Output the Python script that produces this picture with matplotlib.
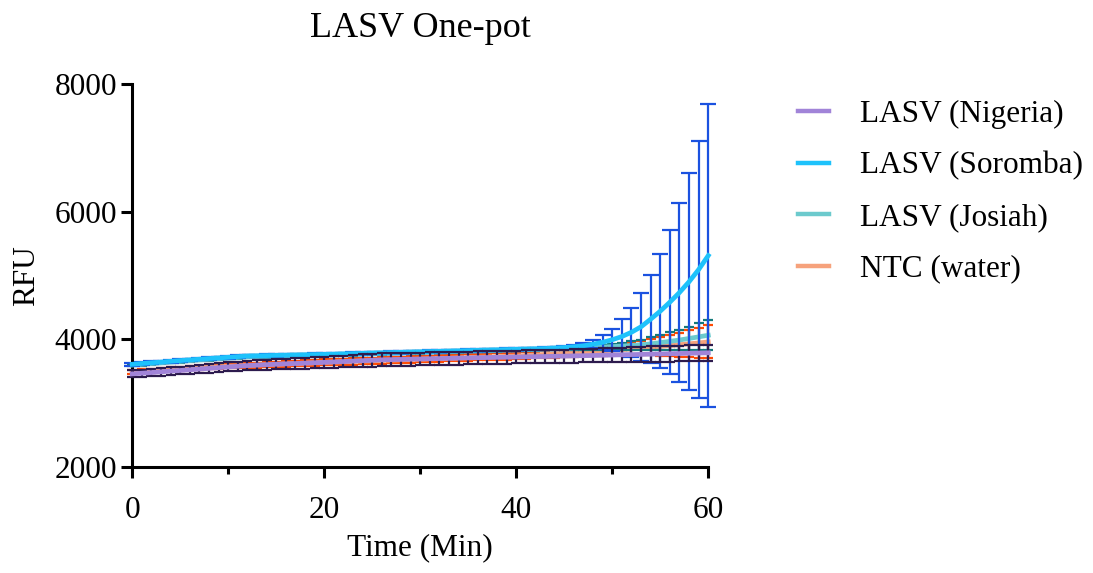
import numpy as np
import matplotlib.pyplot as plt

plt.rcParams['font.family'] = ['Liberation Serif', 'DejaVu Serif']

time_min = list(range(0, 61))

nigeria_mean = [
    3460, 3470, 3480, 3492, 3503, 3513, 3524, 3535, 3546, 3557,
    3568, 3579, 3590, 3597, 3604, 3611, 3617, 3622, 3628, 3634,
    3640, 3647, 3653, 3660, 3667, 3673, 3680, 3683, 3686, 3690,
    3693, 3697, 3700, 3703, 3706, 3710, 3713, 3716, 3719, 3721,
    3724, 3727, 3730, 3732, 3735, 3738, 3742, 3745, 3748, 3752,
    3755, 3759, 3762, 3765, 3769, 3772, 3776, 3779, 3783, 3786,
    3790,
]
nigeria_sd = [
    57, 58, 59, 60, 61, 62, 64, 65, 67, 69,
    71, 73, 75, 77, 79, 81, 83, 85, 86, 88,
    90, 92, 93, 95, 97, 98, 100, 100, 100, 100,
    100, 100, 100, 100, 100, 100, 100, 100, 100, 100,
    100, 100, 100, 100, 100, 102, 104, 106, 108, 110,
    112, 114, 116, 118, 120, 122, 124, 125, 127, 129,
    130,
]

soromba_mean = [
    3610, 3622, 3634, 3645, 3657, 3668, 3679, 3690, 3700, 3710,
    3720, 3730, 3740, 3743, 3746, 3750, 3753, 3756, 3759, 3762,
    3765, 3769, 3773, 3777, 3782, 3786, 3790, 3794, 3798, 3802,
    3806, 3810, 3813, 3817, 3821, 3825, 3829, 3833, 3837, 3841,
    3845, 3849, 3853, 3857, 3865, 3873, 3885, 3900, 3925, 3955,
    3995, 4045, 4112, 4198, 4317, 4443, 4584, 4735, 4904, 5095,
    5314,
]
soromba_sd = [
    20, 20, 20, 20, 20, 20, 20, 20, 20, 20,
    20, 20, 20, 20, 20, 20, 20, 20, 20, 20,
    20, 20, 20, 20, 20, 20, 20, 20, 20, 20,
    20, 20, 20, 20, 20, 20, 20, 20, 20, 20,
    20, 20, 20, 20, 20, 25, 30, 40, 60, 110,
    170, 270, 384, 532, 692, 896, 1130, 1398, 1698, 2019,
    2369,
]

josiah_mean = [
    3598, 3610, 3622, 3633, 3645, 3656, 3667, 3678, 3688, 3698,
    3708, 3718, 3728, 3732, 3736, 3740, 3743, 3746, 3749, 3752,
    3755, 3759, 3763, 3767, 3772, 3776, 3780, 3784, 3788, 3792,
    3796, 3800, 3803, 3807, 3811, 3815, 3819, 3823, 3827, 3831,
    3835, 3839, 3843, 3847, 3852, 3860, 3865, 3870, 3875, 3880,
    3887, 3895, 3905, 3915, 3930, 3950, 3970, 3990, 4015, 4040,
    4065,
]
josiah_sd = [
    20, 20, 20, 20, 20, 20, 20, 20, 20, 20,
    20, 20, 20, 20, 20, 20, 20, 20, 20, 20,
    20, 20, 20, 20, 20, 20, 20, 20, 20, 20,
    20, 20, 20, 20, 20, 20, 20, 20, 20, 20,
    20, 20, 20, 20, 22, 25, 28, 32, 36, 40,
    45, 55, 65, 80, 100, 118, 140, 160, 185, 210,
    232,
]

ntc_mean = [
    3490, 3500, 3510, 3520, 3530, 3540, 3548, 3556, 3564, 3572,
    3580, 3586, 3592, 3598, 3604, 3610, 3616, 3622, 3628, 3634,
    3640, 3645, 3650, 3655, 3660, 3665, 3670, 3675, 3680, 3685,
    3690, 3695, 3700, 3705, 3710, 3715, 3720, 3725, 3730, 3735,
    3740, 3748, 3756, 3764, 3772, 3780, 3790, 3800, 3810, 3820,
    3830, 3840, 3850, 3862, 3876, 3890, 3903, 3917, 3931, 3945,
    3960,
]
ntc_sd = [
    30, 30, 30, 30, 30, 31, 32, 33, 34, 35,
    36, 37, 38, 39, 40, 41, 42, 43, 44, 45,
    46, 47, 48, 49, 50, 50, 50, 50, 50, 50,
    50, 50, 50, 50, 50, 50, 50, 50, 50, 50,
    50, 52, 54, 56, 58, 60, 63, 66, 70, 75,
    80, 88, 98, 110, 128, 150, 170, 190, 210, 235,
    258,
]

labels = ['LASV (Nigeria)', 'LASV (Soromba)', 'LASV (Josiah)', 'NTC (water)']
line_colors = ['#a184d8', '#1ec2fb', '#6ccacd', '#f6a27c']
bar_colors = ['#2d1b4e', '#1b52e0', '#157a7a', '#ff4b05']
cap_sizes = [3.3, 5.5, 3.6, 3.3]

series = [
    (nigeria_mean, nigeria_sd),
    (soromba_mean, soromba_sd),
    (josiah_mean, josiah_sd),
    (ntc_mean, ntc_sd),
]

fs = 22.5

fig = plt.figure(figsize=(10.93, 5.73), dpi=100)
ax = fig.add_axes([0.121, 0.185, 0.527, 0.668])

# draw NTC first, Nigeria last (its dark bars sit on top)
draw_order = [3, 2, 1, 0]
handles = [None] * 4
for k, i in enumerate(draw_order):
    mean, sd = series[i]
    ax.errorbar(time_min, mean, yerr=sd, fmt='none', ecolor=bar_colors[i],
                elinewidth=1.6, capsize=cap_sizes[i], capthick=1.6,
                zorder=2 + k, clip_on=False)
    h, = ax.plot(time_min, mean, color=line_colors[i], lw=3.4,
                 zorder=2.5 + k, clip_on=False)
    handles[i] = h

ax.set_xlim(0, 60)
ax.set_ylim(2000, 8000)
ax.set_xticks([0, 20, 40, 60])
ax.set_xticks([10, 30, 50], minor=True)
ax.set_yticks([2000, 4000, 6000, 8000])

for s in ['top', 'right']:
    ax.spines[s].set_visible(False)
for s in ['left', 'bottom']:
    ax.spines[s].set_linewidth(2.2)

ax.tick_params(axis='both', which='major', direction='out', length=8,
               width=2.2, labelsize=fs)
ax.tick_params(axis='y', which='major', pad=3)
ax.tick_params(axis='x', which='major', pad=13)
ax.tick_params(axis='x', which='minor', direction='out', length=5, width=2.2)

ax.set_xlabel('Time (Min)', fontsize=fs, labelpad=6)
ax.set_ylabel('RFU', fontsize=fs, labelpad=10)
ax.set_title('LASV One-pot', fontsize=26, pad=34)

leg = fig.legend(handles, labels, loc='upper left',
                 bbox_to_anchor=(0.704, 0.875), frameon=False,
                 fontsize=fs, handlelength=1.0, handletextpad=1.0,
                 labelspacing=0.72)
for ln in leg.get_lines():
    ln.set_linewidth(3.2)

fig.savefig('out.png', dpi=100)
